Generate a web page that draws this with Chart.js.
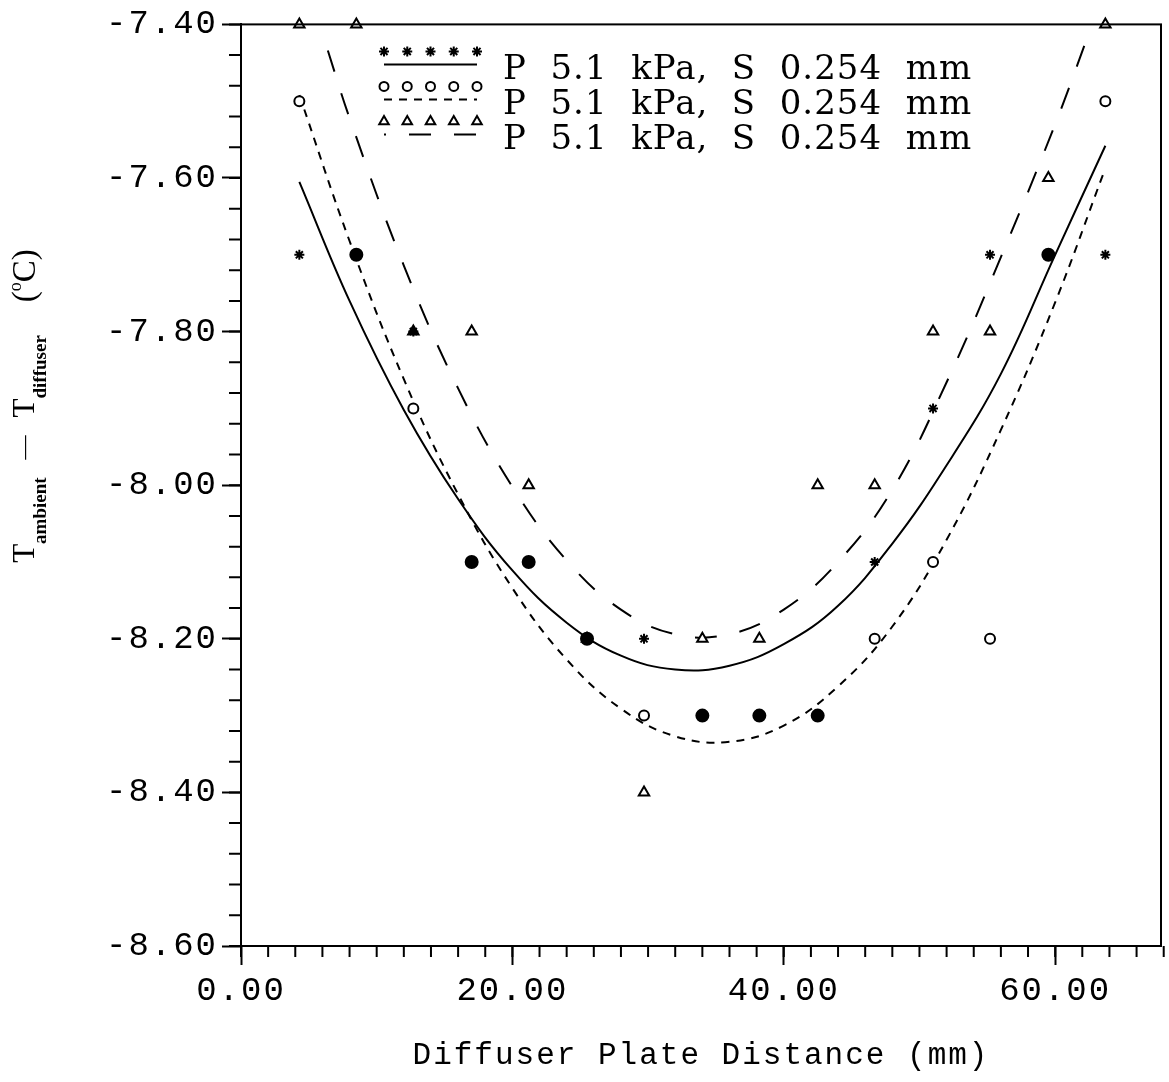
<!DOCTYPE html>
<html>
<head>
<meta charset="utf-8">
<style>
  html, body { margin: 0; padding: 0; background: #fff; }
  #wrap { width: 1169px; height: 1082px; }
</style>
<script src="https://cdn.jsdelivr.net/npm/chart.js@4.4.1/dist/chart.umd.min.js"></script>
</head>
<body>
<div id="wrap"><canvas id="chart" width="1169" height="1082"></canvas></div>
<script>
// ---------- measured points ----------
const distances   = [4.3, 8.5, 12.7, 17.0, 21.2, 25.5, 29.7, 34.0, 38.2, 42.5, 46.7, 51.0, 55.2, 59.5, 63.7];
const starTemps   = [-7.7, -7.7, -7.8, -8.1, -8.1, -8.2, -8.2, -8.3, -8.3, -8.3, -8.1, -7.9, -7.7, -7.7, -7.7];
const circleTemps = [-7.5, -7.7, -7.9, -8.1, -8.1, -8.2, -8.3, -8.3, -8.3, -8.3, -8.2, -8.1, -8.2, -7.7, -7.5];
const triTemps    = [-7.4, -7.4, -7.8, -7.8, -8.0, -8.2, -8.4, -8.2, -8.2, -8.0, -8.0, -7.8, -7.8, -7.6, -7.4];

// ---------- fitted curves ----------
const solidFitX = [4.3, 8, 12, 16, 20, 24, 28, 32, 36, 40, 44, 48, 52, 56, 60, 63.7];
const solidFitY = [-7.605, -7.760, -7.902, -8.018, -8.111, -8.179, -8.222, -8.240, -8.235, -8.207, -8.157, -8.076, -7.974, -7.855, -7.700, -7.558];
const shortFitX = [4.3, 8, 12, 16, 20, 24, 28, 32, 36, 40, 44, 48, 52, 56, 60, 63.6];
const shortFitY = [-7.492, -7.682, -7.862, -8.012, -8.134, -8.227, -8.291, -8.327, -8.334, -8.313, -8.262, -8.184, -8.071, -7.928, -7.762, -7.592];
const longFitX  = [6.4, 8, 12, 16, 20, 24, 28, 32, 36, 40, 44, 48, 52, 56, 60, 62.6];
const longFitY  = [-7.434, -7.522, -7.714, -7.874, -8.002, -8.098, -8.162, -8.194, -8.194, -8.162, -8.100, -8.006, -7.866, -7.703, -7.530, -7.406];

// ---------- axes / labels ----------
const xTickValues = [0, 20, 40, 60];
const yTickValues = [-8.6, -8.4, -8.2, -8.0, -7.8, -7.6, -7.4];
const xMinorStep  = 2;
const yMinorStep  = 0.04;
const xRange      = [0, 67.8];
const yRange      = [-8.6, -7.4];
const xTitle      = 'Diffuser Plate Distance (mm)';
const legendLabels = [
    'P  5.1  kPa,  S  0.254  mm',
    'P  5.1  kPa,  S  0.254  mm',
    'P  5.1  kPa,  S  0.254  mm'
];
const yTitleParts = [
    { text: 'T',        font: '31px "Liberation Serif"',      dy: 0 },
    { text: 'ambient',  font: 'bold 19px "Liberation Serif"', dy: 12 },
    { text: '   —   ',  font: '24px "Liberation Serif"',      dy: -3 },
    { text: 'T',        font: '31px "Liberation Serif"',      dy: 0 },
    { text: 'diffuser', font: 'bold 19px "Liberation Serif"', dy: 12 },
    { text: '    (',    font: '33px "Liberation Serif"',      dy: 1 },
    { text: 'o',        font: '18px "Liberation Serif"',      dy: -13 },
    { text: 'C)',       font: '33px "Liberation Serif"',      dy: 1 }
];

const toPts = (xs, ys) => xs.map((x, i) => ({ x: x, y: ys[i] }));
const starOnTop = (arr, i) => starTemps[i] === arr[i];

// ---------- plugins ----------
const spacingPlugin = {
    id: 'spacing',
    beforeDraw(chart) { chart.ctx.letterSpacing = '2px'; }
};

const framePlugin = {
    id: 'frame',
    afterDraw(chart) {
        const ctx = chart.ctx;
        const a = chart.chartArea;
        const xs = chart.scales.x, ys = chart.scales.y;
        ctx.save();
        ctx.strokeStyle = '#000';
        ctx.lineWidth = 2;
        ctx.strokeRect(a.left, a.top, a.right - a.left, a.bottom - a.top);
        // minor ticks
        ctx.beginPath();
        const nx = Math.round((xs.max - xs.min) / xMinorStep);
        for (let i = 0; i <= nx; i++) {
            const px = xs.getPixelForValue(xs.min + i * xMinorStep);
            ctx.moveTo(px, a.bottom); ctx.lineTo(px, a.bottom + 11);
        }
        const ny = Math.round((ys.max - ys.min) / yMinorStep);
        for (let i = 0; i <= ny; i++) {
            const py = ys.getPixelForValue(ys.min + i * yMinorStep);
            ctx.moveTo(a.left - 12, py); ctx.lineTo(a.left, py);
        }
        ctx.stroke();
        ctx.restore();
    }
};

const legendPlugin = {
    id: 'plotLegend',
    afterDraw(chart) {
        const ctx = chart.ctx;
        const a = chart.chartArea;
        const x0 = a.left + 143, x1 = a.left + 236;
        ctx.save();
        ctx.letterSpacing = '1px';
        for (let r = 0; r < 3; r++) {
            const mark = chart.data.datasets[r];
            const curve = chart.data.datasets[r + 3];
            const my = a.top + 27 + r * 35;
            ctx.strokeStyle = '#000';
            ctx.lineWidth = mark.pointBorderWidth;
            for (let k = 0; k < 5; k++) {
                const mx = x0 + (x1 - x0) * k / 4;
                ctx.fillStyle = mark.pointStyle === 'star' ? '#000' : '#fff';
                Chart.helpers.drawPoint(ctx, {
                    pointStyle: mark.pointStyle, radius: mark.legendRadius,
                    rotation: 0, borderWidth: mark.pointBorderWidth
                }, mx, my);
            }
            ctx.beginPath();
            ctx.lineWidth = 2;
            ctx.setLineDash(curve.borderDash || []);
            ctx.lineDashOffset = r === 2 ? 20 : 0;
            ctx.moveTo(x0, my + 13);
            ctx.lineTo(x1, my + 13);
            ctx.stroke();
            ctx.setLineDash([]);
            ctx.fillStyle = '#000';
            ctx.font = '34px "DejaVu Serif"';
            ctx.textBaseline = 'alphabetic';
            ctx.fillText(legendLabels[r], a.left + 262, a.top + 55 + r * 35);
        }
        ctx.restore();
    }
};

const yTitlePlugin = {
    id: 'yTitle',
    afterDraw(chart) {
        const ctx = chart.ctx;
        ctx.save();
        ctx.letterSpacing = '0px';
        ctx.fillStyle = '#000';
        ctx.textBaseline = 'alphabetic';
        let total = 0;
        yTitleParts.forEach(p => { ctx.font = p.font; total += ctx.measureText(p.text).width; });
        ctx.translate(34, 406);
        ctx.rotate(-Math.PI / 2);
        let x = -total / 2;
        yTitleParts.forEach(p => {
            ctx.font = p.font;
            ctx.fillText(p.text, x, p.dy);
            x += ctx.measureText(p.text).width;
        });
        ctx.restore();
    }
};

// ---------- chart ----------
const tickFont = { family: '"Liberation Mono"', size: 34 };

new Chart(document.getElementById('chart').getContext('2d'), {
    type: 'scatter',
    data: {
        datasets: [
            {
                label: 'stars',
                data: toPts(distances, starTemps),
                pointStyle: 'star',
                pointRadius: 5,
                legendRadius: 5,
                pointBorderWidth: 2,
                pointBorderColor: '#000',
                pointBackgroundColor: '#000',
                clip: false
            },
            {
                label: 'circles',
                data: toPts(distances, circleTemps),
                pointStyle: 'circle',
                pointRadius: c => starOnTop(circleTemps, c.dataIndex) ? 6 : 5,
                legendRadius: 4.5,
                pointBorderWidth: 2,
                pointBorderColor: '#000',
                pointBackgroundColor: c => starOnTop(circleTemps, c.dataIndex) ? '#000' : '#fff',
                clip: false
            },
            {
                label: 'triangles',
                data: toPts(distances, triTemps),
                pointStyle: 'triangle',
                pointRadius: 6,
                legendRadius: 5.5,
                pointBorderWidth: 2,
                pointBorderColor: '#000',
                pointBackgroundColor: c => starOnTop(triTemps, c.dataIndex) ? '#000' : '#fff',
                clip: false
            },
            {
                label: 'solid fit',
                data: toPts(solidFitX, solidFitY),
                showLine: true,
                pointRadius: 0,
                borderColor: '#000',
                borderWidth: 2,
                tension: 0.4
            },
            {
                label: 'short dash fit',
                data: toPts(shortFitX, shortFitY),
                showLine: true,
                pointRadius: 0,
                borderColor: '#000',
                borderWidth: 2,
                borderDash: [8, 7],
                tension: 0.4
            },
            {
                label: 'long dash fit',
                data: toPts(longFitX, longFitY),
                showLine: true,
                pointRadius: 0,
                borderColor: '#000',
                borderWidth: 2,
                borderDash: [22, 23],
                tension: 0.4
            }
        ]
    },
    options: {
        responsive: false,
        animation: false,
        events: [],
        layout: { padding: { top: 22, right: 2, left: 0, bottom: 0 } },
        plugins: {
            legend: { display: false },
            tooltip: { enabled: false }
        },
        scales: {
            x: {
                type: 'linear',
                position: 'bottom',
                min: xRange[0], max: xRange[1],
                afterBuildTicks: s => { s.ticks = xTickValues.map(v => ({ value: v })); },
                afterFit: s => { s.height = 136; },
                ticks: {
                    color: '#000', font: tickFont, padding: 6,
                    maxRotation: 0, autoSkip: false,
                    callback: v => Number(v).toFixed(2)
                },
                grid: { drawOnChartArea: false, tickLength: 19, tickWidth: 2, tickColor: '#000' },
                border: { display: true, color: '#000', width: 2 },
                title: {
                    display: true, text: xTitle, color: '#000',
                    font: { family: '"Liberation Mono"', size: 31 },
                    padding: { top: 0, bottom: 8 }
                }
            },
            y: {
                type: 'linear',
                min: yRange[0], max: yRange[1],
                afterBuildTicks: s => { s.ticks = yTickValues.map(v => ({ value: v })); },
                afterFit: s => { s.width = 241; },
                ticks: {
                    color: '#000', font: tickFont, padding: 4,
                    autoSkip: false,
                    callback: v => Number(v).toFixed(2)
                },
                grid: { drawOnChartArea: false, tickLength: 19, tickWidth: 2, tickColor: '#000' },
                border: { display: true, color: '#000', width: 2 }
            }
        }
    },
    plugins: [spacingPlugin, framePlugin, legendPlugin, yTitlePlugin]
});
</script>
</body>
</html>
